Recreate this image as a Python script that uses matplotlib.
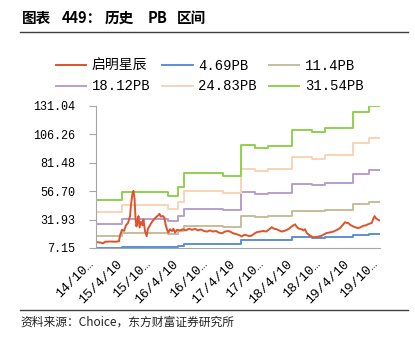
import numpy as np
import pandas as pd
import matplotlib
matplotlib.use("Agg")
import matplotlib.pyplot as plt
import matplotlib.transforms as mtransforms

plt.rcParams['font.family'] = ['Liberation Mono', 'Noto Sans CJK SC', 'DejaVu Sans']

# PB band steps (book value per share x multiple)
step_dates = ['2014-10-10', '2015-03-27', '2016-01-15', '2016-03-22', '2016-04-25',
              '2017-01-06', '2017-04-28', '2017-07-28', '2017-10-23', '2018-03-20',
              '2018-07-27', '2018-10-22', '2019-04-22', '2019-07-31']
end_date = '2019-10-10'

pb_469 = [7.29, 8.37, 7.85, 9.01, 10.75, 10.41, 14.42, 13.99, 14.31, 16.37, 16.07, 16.60, 18.65, 19.48]
pb_114 = [17.71, 20.35, 19.08, 21.90, 26.13, 25.30, 35.06, 34.01, 34.77, 39.80, 39.07, 40.34, 45.33, 47.35]
pb_1812 = [28.15, 32.34, 30.33, 34.82, 41.54, 40.22, 55.73, 54.06, 55.27, 63.25, 62.10, 64.12, 72.04, 75.26]
pb_2483 = [38.58, 44.32, 41.57, 47.71, 56.92, 55.11, 76.37, 74.08, 75.73, 86.68, 85.10, 87.86, 98.72, 103.13]
pb_3154 = [49.0, 56.3, 52.8, 60.6, 72.3, 70.0, 97.0, 94.1, 96.2, 110.1, 108.1, 111.6, 125.4, 131.0]

# 启明星辰 price
px_dates = ['2014-10-10', '2014-11-05', '2014-11-24', '2014-12-07', '2015-01-08', '2015-02-09',
            '2015-03-07', '2015-03-13', '2015-03-26', '2015-04-08', '2015-04-21', '2015-05-04',
            '2015-05-17', '2015-05-23', '2015-06-02', '2015-06-08', '2015-06-15', '2015-06-21',
            '2015-06-27', '2015-07-04', '2015-07-10', '2015-07-17', '2015-07-26', '2015-08-05',
            '2015-08-11', '2015-08-21', '2015-09-01', '2015-09-09', '2015-09-22', '2015-10-05',
            '2015-10-18', '2015-10-31', '2015-11-13', '2015-11-22', '2015-12-02', '2015-12-15',
            '2015-12-24', '2015-12-31', '2016-01-08', '2016-01-18', '2016-01-29', '2016-02-11',
            '2016-02-20', '2016-03-01', '2016-03-14', '2016-04-02', '2016-04-21', '2016-05-11',
            '2016-05-30', '2016-06-18', '2016-07-08', '2016-07-27', '2016-08-15', '2016-09-03',
            '2016-09-23', '2016-10-12', '2016-10-31', '2016-11-20', '2016-12-09', '2016-12-28',
            '2017-01-16', '2017-02-05', '2017-02-18', '2017-03-09', '2017-04-02', '2017-04-16',
            '2017-05-04', '2017-05-19', '2017-06-05', '2017-06-20', '2017-07-07', '2017-07-22',
            '2017-08-08', '2017-08-30', '2017-09-20', '2017-10-07', '2017-10-22', '2017-11-02',
            '2017-11-13', '2017-11-28', '2017-12-15', '2017-12-30', '2018-01-16', '2018-01-31',
            '2018-02-17', '2018-03-04', '2018-03-21', '2018-04-02', '2018-04-12', '2018-04-21',
            '2018-05-03', '2018-05-25', '2018-06-04', '2018-06-15', '2018-06-26', '2018-07-11',
            '2018-07-28', '2018-08-12', '2018-08-29', '2018-09-13', '2018-09-30', '2018-10-15',
            '2018-11-01', '2018-11-23', '2018-12-14', '2018-12-31', '2019-01-26', '2019-02-11',
            '2019-02-27', '2019-03-09', '2019-03-20', '2019-03-31', '2019-04-21', '2019-05-09',
            '2019-05-24', '2019-06-10', '2019-06-25', '2019-07-12', '2019-07-27', '2019-08-18',
            '2019-08-26', '2019-09-05', '2019-09-14', '2019-09-21', '2019-09-30', '2019-10-10']
px_vals = [12.3, 12.0, 11.2, 12.6, 12.8, 12.6,
           13.0, 18.0, 23.0, 22.0, 27.0, 29.0,
           35.0, 45.0, 55.0, 57.0, 50.0, 33.0,
           26.0, 30.0, 35.0, 25.0, 30.0, 27.0,
           32.0, 22.0, 17.5, 24.0, 27.0, 30.0,
           32.0, 34.0, 35.5, 37.0, 34.5, 35.0,
           33.5, 28.0, 24.0, 20.5, 23.5, 22.0,
           24.0, 20.5, 23.0, 22.5, 23.5, 22.5,
           24.0, 23.0, 23.8, 22.5, 23.3, 22.0,
           21.5, 22.5, 21.5, 22.0, 20.5, 20.0,
           21.5, 22.0, 21.5, 20.0, 19.2, 18.5,
           17.2, 18.5, 18.3, 17.5, 18.0, 19.5,
           20.9, 21.5, 22.0, 21.5, 22.9, 24.0,
           25.3, 24.0, 23.5, 22.5, 21.5, 22.0,
           22.9, 24.0, 25.9, 27.0, 27.8, 26.0,
           24.2, 23.5, 22.5, 23.5, 20.2, 18.5,
           17.2, 16.5, 16.8, 17.2, 17.8, 19.0,
           20.2, 20.8, 21.5, 22.5, 24.5, 27.0,
           29.7, 29.0, 29.0, 27.5, 25.9, 25.0,
           24.5, 25.5, 26.5, 27.0, 28.0, 29.0,
           32.0, 35.0, 33.0, 32.5, 31.5, 31.1]

y_ticks = [7.15, 31.93, 56.70, 81.48, 106.26, 131.04]
x_tick_dates = ['2014-10-10', '2015-04-10', '2015-10-10', '2016-04-10', '2016-10-10', '2017-04-10',
                '2017-10-10', '2018-04-10', '2018-10-10', '2019-04-10', '2019-10-10']
x_tick_labels = ['14/10…', '15/4/10', '15/10…', '16/4/10', '16/10…', '17/4/10',
                 '17/10…', '18/4/10', '18/10…', '19/4/10', '19/10…']

bands = [('4.69PB', pb_469, '#5B8FD6'),
         ('11.4PB', pb_114, '#C6BE9A'),
         ('18.12PB', pb_1812, '#B6A0CE'),
         ('24.83PB', pb_2483, '#FAD3B6'),
         ('31.54PB', pb_3154, '#8ED24C')]

fig = plt.figure(figsize=(4.15, 3.41), dpi=100)
ax = fig.add_axes([96/415, 1-248/341, 284/415, 142/341])

sd = pd.to_datetime(step_dates + [end_date])
handles = []
for name, vals, col in bands:
    h, = ax.plot(sd, vals + [vals[-1]], drawstyle='steps-post', color=col, lw=1.4, label=name)
    handles.append(h)
red, = ax.plot(pd.to_datetime(px_dates), px_vals, color='#E0522A', lw=1.4, label='启明星辰')
handles = [red] + handles

ax.set_xlim(pd.Timestamp('2014-10-10'), pd.Timestamp(end_date))
ax.set_ylim(y_ticks[0], y_ticks[-1])
ax.set_yticks(y_ticks)
ax.set_yticklabels(['%.2f' % v for v in y_ticks], fontsize=8.5)
ax.set_xticks(pd.to_datetime(x_tick_dates))
ax.set_xticklabels(x_tick_labels, rotation=45, ha='right', fontsize=9.5)
shift = mtransforms.ScaledTranslation(13/100, 0, fig.dpi_scale_trans)
for lab in ax.get_xticklabels():
    lab.set_transform(lab.get_transform() + shift)
for s in ['top', 'right']:
    ax.spines[s].set_visible(False)
for s in ['left', 'bottom']:
    ax.spines[s].set_color('#A6A6A6')
ax.tick_params(axis='y', length=5, color='#A6A6A6', pad=10)
ax.tick_params(axis='x', length=0, pad=7)

# row-wise legend order (matplotlib fills columns first)
order = [0, 3, 1, 4, 2, 5]
fig.legend(handles=[handles[i] for i in order], ncol=3, frameon=False, loc='upper left',
           bbox_to_anchor=(50/415, 1-53/341), fontsize=10,
           handlelength=2.2, handletextpad=0.4, columnspacing=0.85, labelspacing=0.5,
           borderaxespad=0)

title_parts = [('图表', 22), ('449：', 62), ('历史', 105), ('PB', 148), ('区间', 177)]
for txt, xp in title_parts:
    fig.text(xp/415, 1-18/341, txt, fontsize=10.5, fontweight='bold',
             family=['Noto Sans CJK SC'], va='center', ha='left')
fig.add_artist(plt.Line2D([20/415, 408/415], [1-32/341, 1-32/341], color='#404040', lw=1.0))
fig.add_artist(plt.Line2D([20/415, 408/415], [1-310/341, 1-310/341], color='#404040', lw=1.0))
fig.text(20/415, 1-322/341, '资料来源：Choice，东方财富证券研究所', fontsize=8.5,
         family=['Noto Sans CJK SC'], va='center', ha='left', color='#222222')

fig.savefig('out.png', dpi=100)
